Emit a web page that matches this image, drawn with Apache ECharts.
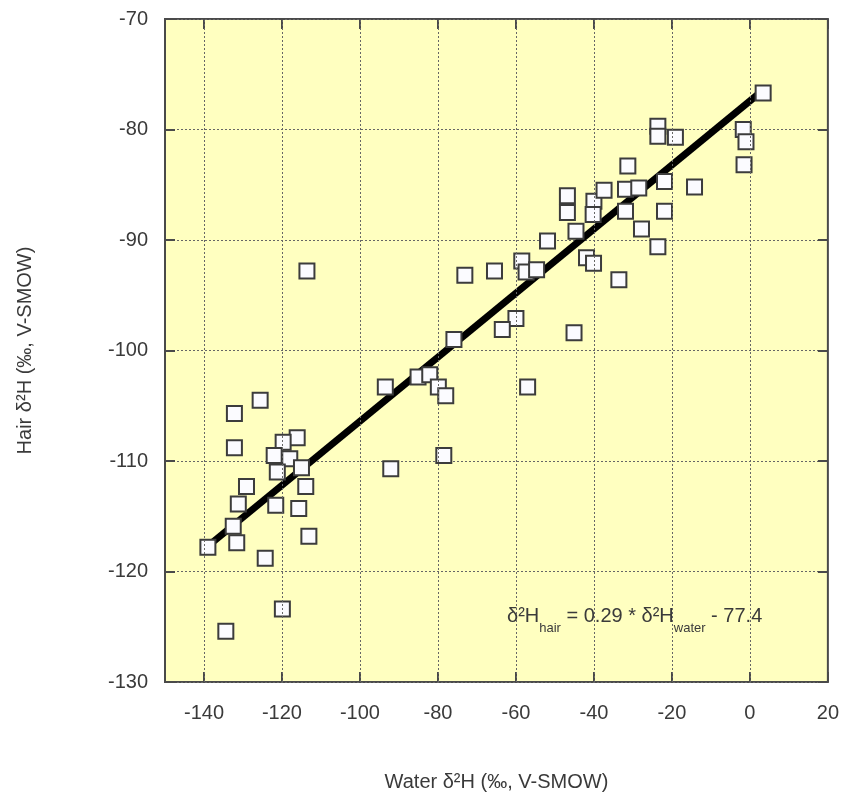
<!DOCTYPE html>
<html>
<head>
<meta charset="utf-8">
<script src="https://cdn.jsdelivr.net/npm/echarts@6/dist/echarts.min.js"></script>
<style>
  html, body { margin: 0; padding: 0; background: #fff; }
  #Map { width: 842px; height: 799px; }
</style>
</head>
<body>
<div id="Map"></div>
<script>
// data: [water d2H, hair d2H]
var samples = [
  [3.4, -76.7], [-23.6, -79.7], [-23.6, -80.6], [-19.1, -80.7], [-1.7, -80.0],
  [-1.0, -81.1], [-1.5, -83.2], [-31.3, -83.3], [-21.9, -84.7], [-14.2, -85.2],
  [-46.8, -86.0], [-46.8, -87.5], [-40.0, -86.5], [-40.2, -87.7], [-37.4, -85.5],
  [-31.9, -85.4], [-28.5, -85.3], [-31.9, -87.4], [-21.9, -87.4], [-44.6, -89.2],
  [-27.8, -89.0], [-51.9, -90.1], [-41.9, -91.6], [-40.1, -92.1], [-23.6, -90.6],
  [-33.6, -93.6],
  [-58.5, -91.9], [-57.4, -92.9], [-54.7, -92.7], [-65.5, -92.8], [-73.1, -93.2],
  [-60.0, -97.1], [-63.5, -98.1], [-45.1, -98.4], [-75.9, -99.0], [-57.0, -103.3],
  [-85.1, -102.4], [-82.1, -102.2], [-79.9, -103.3], [-78.0, -104.1], [-93.5, -103.3],
  [-78.5, -109.5],
  [-92.1, -110.7], [-125.6, -104.5], [-132.2, -105.7], [-132.2, -108.8], [-116.1, -107.9],
  [-119.7, -108.3], [-122.0, -109.5], [-118.0, -109.8], [-115.0, -110.6], [-121.2, -111.0],
  [-129.1, -112.3], [-113.9, -112.3], [-131.2, -113.9], [-121.6, -114.0], [-115.7, -114.3],
  [-132.5, -115.9], [-113.1, -116.8], [-131.6, -117.4], [-139.0, -117.8], [-124.3, -118.8],
  [-119.9, -123.4], [-134.4, -125.4],
  [-113.6, -92.8]
];
// regression line end points
var fitLine = [[-139.0, -117.7], [3.5, -76.4]];
var xTicks = [-140, -120, -100, -80, -60, -40, -20, 0, 20];
var xGrid = [-140, -120, -100, -80, -60, -40, -20, 0];

var txt = '#3a3a3a';
var frame = '#4a4a4a';

var myChart = echarts.init(document.getElementById('Map'));
var option = {
    backgroundColor: '#ffffff',
    animation: false,
    grid: {
        left: 165,
        right: 13,
        top: 19,
        bottom: 117,
        show: true,
        backgroundColor: '#ffffc0',
        borderColor: frame,
        borderWidth: 2
    },
    xAxis: [
        {
            type: 'value',
            min: -150,
            max: 20,
            name: 'Water δ²H (‰, V-SMOW)',
            nameLocation: 'middle',
            nameGap: 90,
            nameTextStyle: { color: txt, fontSize: 20, fontFamily: 'Liberation Sans' },
            axisLine: { show: false, onZero: false },
            axisTick: { show: true, inside: true, length: 10, customValues: xTicks,
                        lineStyle: { color: frame, width: 2 } },
            axisLabel: { customValues: xTicks, color: txt, fontSize: 20,
                         fontFamily: 'Liberation Sans', margin: 21 },
            splitLine: { show: false }
        },
        {
            type: 'value',
            position: 'top',
            min: -150,
            max: 20,
            axisLine: { show: false, onZero: false },
            axisTick: { show: true, inside: true, length: 10, customValues: xTicks,
                        lineStyle: { color: frame, width: 2 } },
            axisLabel: { show: false },
            splitLine: { show: false }
        }
    ],
    yAxis: [
        {
            type: 'value',
            min: -130,
            max: -70,
            interval: 10,
            name: 'Hair δ²H (‰, V-SMOW)',
            nameLocation: 'middle',
            nameGap: 130,
            nameTextStyle: { color: txt, fontSize: 20, fontFamily: 'Liberation Sans' },
            axisLine: { show: false, onZero: false },
            axisTick: { show: true, inside: true, length: 10,
                        lineStyle: { color: frame, width: 2 } },
            axisLabel: { color: txt, fontSize: 20, fontFamily: 'Liberation Sans', margin: 17 },
            splitLine: { show: true, lineStyle: { color: '#666', width: 1, type: [2, 2] } }
        },
        {
            type: 'value',
            position: 'right',
            min: -130,
            max: -70,
            interval: 10,
            axisLine: { show: false, onZero: false },
            axisTick: { show: true, inside: true, length: 10,
                        lineStyle: { color: frame, width: 2 } },
            axisLabel: { show: false },
            splitLine: { show: false }
        }
    ],
    series: [
        {
            name: 'grid',
            type: 'line',
            data: [],
            markLine: {
                silent: true,
                symbol: 'none',
                label: { show: false },
                lineStyle: { color: '#666', width: 1, type: [2, 2] },
                data: xGrid.map(function (v) { return { xAxis: v }; })
            }
        },
        {
            name: 'fit',
            type: 'line',
            data: fitLine,
            symbol: 'none',
            lineStyle: { color: '#000', width: 7 },
            z: 3
        },
        {
            name: 'hair',
            type: 'scatter',
            data: samples,
            symbol: 'rect',
            symbolSize: 15,
            itemStyle: { color: '#fbfbff', borderColor: '#3c3c3c', borderWidth: 2, opacity: 1 },
            z: 4
        }
    ],
    graphic: [
        {
            type: 'text',
            left: 507,
            top: 606,
            z: 10,
            style: {
                text: '{m|δ²H}{s|hair}{m| = 0.29 * δ²H}{s|water}{m| - 77.4}',
                rich: {
                    m: { fontSize: 20, fill: txt, fontFamily: 'Liberation Sans' },
                    s: { fontSize: 13, fill: txt, fontFamily: 'Liberation Sans', padding: [24, 0, 0, 0] }
                }
            }
        }
    ]
};
myChart.setOption(option);
</script>
</body>
</html>
